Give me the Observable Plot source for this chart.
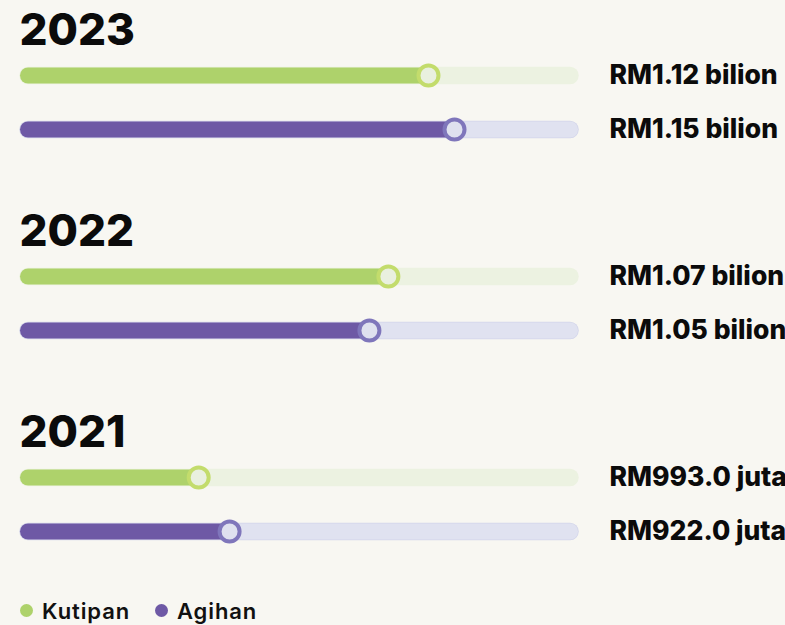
<!DOCTYPE html>
<html><head><meta charset="utf-8">
<script src="https://cdn.jsdelivr.net/npm/d3@7"></script>
<script src="https://cdn.jsdelivr.net/npm/@observablehq/plot@0.6"></script>
<style>
html,body{margin:0;padding:0;background:#f8f7f2;}
body{width:785px;height:625px;overflow:hidden;font-family:Inter,"Open Sans",sans-serif;}
#chart svg{overflow:visible;display:block;}
#legend{position:relative;height:35px;font-weight:600;font-size:22px;color:#111;letter-spacing:0.9px;}
.item{position:absolute;top:3px;display:flex;align-items:center;height:35px;}
.dot{width:13px;height:13px;border-radius:50%;display:inline-block;margin-right:9px;}
</style></head><body><div id="chart"></div><div id="legend"></div>
<script>
const years = [2023, 2022, 2021];
const series = ["Kutipan", "Agihan"];
const kutipanLabels = ["RM1.12 bilion", "RM1.07 bilion", "RM993.0 juta"];
const agihanLabels = ["RM1.15 bilion", "RM1.05 bilion", "RM922.0 juta"];
// bar fill positions (percent of track)
const kutipanProgress = [73.8, 66.4, 31.4];
const agihanProgress = [78.6, 62.9, 37.1];

const barColor = {Kutipan: "#aed26b", Agihan: "#6e59a5"};
const trackColor = {Kutipan: "#ecf2e1", Agihan: "#e0e2f0"};
const trackBorder = {Kutipan: "#ecf2e1", Agihan: "#d3d5ea"};
const knobStroke = {Kutipan: "#c3dc6c", Agihan: "#7f76bb"};
const knobFill = {Kutipan: "#e9f0df", Agihan: "#dfe1ef"};

const rows = years.flatMap((year, i) => [
  {year, series: "Kutipan", progress: kutipanProgress[i], label: kutipanLabels[i]},
  {year, series: "Agihan", progress: agihanProgress[i], label: agihanLabels[i]}
]);

const marks = [];
for (const s of series) {
  const data = rows.filter(d => d.series === s);
  marks.push(
    Plot.ruleY(data, {fy: "year", y: "series", x1: 0, x2: 100, stroke: trackBorder[s], strokeWidth: 17.5, strokeLinecap: "round"}),
    Plot.ruleY(data, {fy: "year", y: "series", x1: 0, x2: 100, stroke: trackColor[s], strokeWidth: 16, strokeLinecap: "round"}),
    Plot.ruleY(data, {fy: "year", y: "series", x1: 0, x2: "progress", stroke: barColor[s], strokeWidth: 16, strokeLinecap: "round"}),
    Plot.dot(data, {fy: "year", y: "series", x: "progress", r: 10, fill: knobFill[s], stroke: knobStroke[s], strokeWidth: 4})
  );
}
marks.push(
  Plot.text(rows, {fy: "year", y: "series", text: "label", frameAnchor: "right", dx: 39, textAnchor: "start",
    fontSize: 26.5, fontWeight: 800, fill: "#0b0b0b"}),
  Plot.text(years, {fy: d => d, text: d => String(d), frameAnchor: "top-left", lineAnchor: "top", dx: -9, dy: 13,
    fontSize: 44, fontWeight: 800, fill: "#0b0b0b"})
);

const chart = Plot.plot({
  width: 785,
  height: 590,
  marginTop: 0, marginBottom: 0, marginLeft: 28, marginRight: 215,
  style: {background: "transparent", fontFamily: "Inter, 'Open Sans', sans-serif", overflow: "visible"},
  x: {domain: [0, 100], axis: null},
  y: {type: "point", domain: ["Kutipan", "Agihan"], range: [75, 129], padding: 0, axis: null},
  fy: {domain: years, range: [0, 603], padding: 0, axis: null},
  marks
});
document.getElementById("chart").appendChild(chart);

const legend = document.getElementById("legend");
const legendX = [20, 155];
series.forEach((s, i) => {
  const item = document.createElement("div");
  item.className = "item";
  item.style.left = legendX[i] + "px";
  item.innerHTML = `<span class="dot" style="background:${barColor[s]}"></span><span>${s}</span>`;
  legend.appendChild(item);
});
</script>
</body></html>
